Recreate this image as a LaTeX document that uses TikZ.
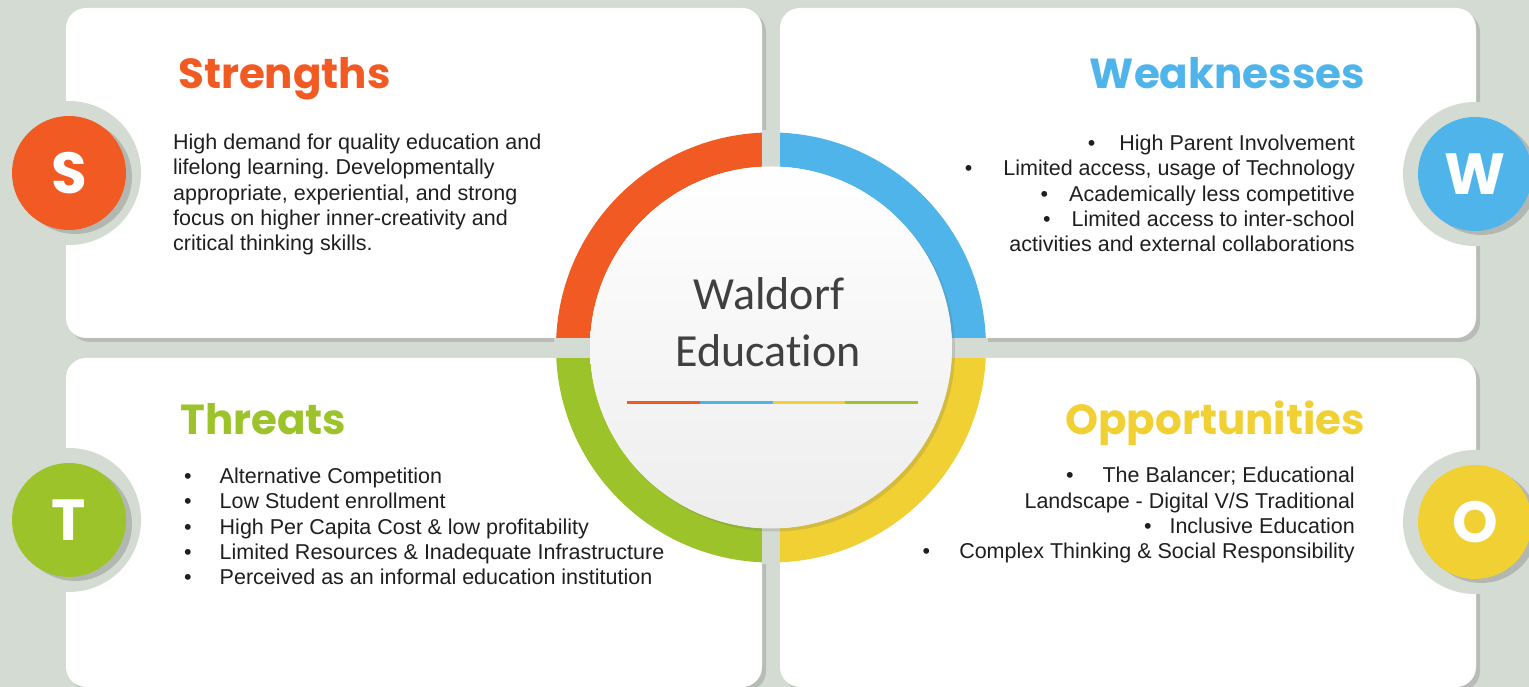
\documentclass[tikz,border=0pt]{standalone}
\usepackage{fontspec}
\setmainfont{Liberation Sans}
\newfontfamily\titlefont{Poppins}
\newfontfamily\hubfont{Carlito}[Ligatures=NoCommon]
\usetikzlibrary{shadows}
\frenchspacing

\definecolor{bg}{HTML}{D3DBD2}
\definecolor{swotorange}{HTML}{F15A22}
\definecolor{swotblue}{HTML}{4FB4EA}
\definecolor{swotyellow}{HTML}{F0D033}
\definecolor{swotgreen}{HTML}{9CC42A}
\definecolor{hubgrey}{HTML}{404040}

\begin{document}
\begin{tikzpicture}[x=1pt,y=1pt]

\tikzset{%
    card/.style={fill=white,rounded corners=20pt,drop shadow={shadow xshift=4pt,shadow yshift=-4pt,opacity=0.25,fill=black!60}},
    headtext/.style={font=\titlefont\bfseries\fontsize{42}{48}\selectfont,inner sep=0pt},
    body/.style={font=\fontsize{21.5}{25.4}\selectfont,text=black!88,inner sep=0pt},
    letter/.style={circle,minimum size=114pt,inner sep=0pt,text=white,font=\titlefont\bfseries\fontsize{58}{60}\selectfont,
        drop shadow={shadow xshift=6pt,shadow yshift=-4pt,opacity=0.3,fill=black!60}},
    notch/.style={circle,fill=bg,minimum size=144pt,inner sep=0pt},
    ring/.style={line width=34pt},
    hub/.style={circle,minimum size=362pt,inner sep=0pt,top color=white,bottom color=black!7,
        drop shadow={shadow xshift=3pt,shadow yshift=-3pt,opacity=0.2,fill=black!60}},
    hubtext/.style={font=\hubfont\fontsize{46}{50}\selectfont,text=hubgrey,inner sep=0pt},
    rule/.style={line width=3pt},
}

% ring centre and radii
\def\cx{771}
\def\cy{339.5}
\def\rout{215}
\def\rmid{198}

% card edges
\def\xa{66}
\def\xb{762}
\def\xc{780}
\def\xd{1476}
\def\ya{0}
\def\yb{329}
\def\yc{349}
\def\yd{679}

\useasboundingbox (0,0) rectangle (1529,687);

% background
\fill [bg] (0,0) rectangle (1529,687);

% cards
\fill [card] (\xa,\yc) rectangle (\xb,\yd);
\fill [card] (\xc,\yc) rectangle (\xd,\yd);
\fill [card] (\xa,\ya) rectangle (\xb,\yb);
\fill [card] (\xc,\ya) rectangle (\xd,\yb);

% letter badges
\node [notch] (snotch) at (69,514) {};
\node [notch] (wnotch) at (1475,513) {};
\node [notch] (tnotch) at (69,167) {};
\node [notch] (onotch) at (1475,165) {};
\node [letter,fill=swotorange] (sdot) at (snotch) {S};
\node [letter,fill=swotblue] (wdot) at (wnotch) {W};
\node [letter,fill=swotgreen] (tdot) at (tnotch) {T};
\node [letter,fill=swotyellow] (odot) at (onotch) {O};

% ring
\draw [ring,swotblue] (\cx,\cy) ++(0:\rmid) arc [radius=\rmid, start angle=0, end angle=90];
\draw [ring,swotorange] (\cx,\cy) ++(90:\rmid) arc [radius=\rmid, start angle=90, end angle=180];
\draw [ring,swotgreen] (\cx,\cy) ++(180:\rmid) arc [radius=\rmid, start angle=180, end angle=270];
\draw [ring,swotyellow] (\cx,\cy) ++(270:\rmid) arc [radius=\rmid, start angle=270, end angle=360];

% gaps through the ring
\fill [bg] (\xb,\cy-\rout-2) rectangle (\xc,\cy+\rout+2);
\fill [bg] (\cx-\rout-2,\yb) rectangle (\cx+\rout+2,\yc);

% hub
\node [hub] (hub) at (\cx,\cy) {};
\node [hubtext,anchor=base] (waldorf) at (769,377) {Waldorf};
\node [hubtext,anchor=base] (education) at (768,320) {Education};

\coordinate (l0) at (627,284);
\coordinate (l1) at (699.75,284);
\coordinate (l2) at (772.5,284);
\coordinate (l3) at (845.25,284);
\coordinate (l4) at (918,284);
\draw [rule,swotorange] (l0) -- (l1);
\draw [rule,swotblue] (l1) -- (l2);
\draw [rule,swotyellow] (l2) -- (l3);
\draw [rule,swotgreen] (l3) -- (l4);

% titles
\node [headtext,text=swotorange,anchor=base west] (strengths) at (178,598) {Strengths};
\node [headtext,text=swotblue,anchor=base east] (weaknesses) at (1365,598) {Weaknesses};
\node [headtext,text=swotgreen,anchor=base west] (threats) at (180,252) {Threats};
\node [headtext,text=swotyellow,anchor=base east] (opportunities) at (1365,252) {Opportunities};

% texts (base = last line)
\node [body,anchor=base west,align=left] (stext) at (173,436) {High demand for quality education and\\
    lifelong learning. Developmentally\\
    appropriate, experiential, and strong\\
    focus on higher inner-creativity and\\
    critical thinking skills.};

\node [body,anchor=base east,align=right] (wtext) at (1355,435) {\textbullet\hspace{24pt}High Parent Involvement\\
    \textbullet\hspace{31pt}Limited access, usage of Technology\\
    \textbullet\hspace{21pt}Academically less competitive\\
    \textbullet\hspace{21pt}Limited access to inter-school\\
    activities and external collaborations};

\node [body,anchor=base west,align=left] (ttext) at (184,102) {\textbullet\hspace{28pt}Alternative Competition\\
    \textbullet\hspace{28pt}Low Student enrollment\\
    \textbullet\hspace{28pt}High Per Capita Cost \& low profitability\\
    \textbullet\hspace{28pt}Limited Resources \& Inadequate Infrastructure\\
    \textbullet\hspace{28pt}Perceived as an informal education institution};

\node [body,anchor=base east,align=right] (otext) at (1355,128) {\textbullet\hspace{29pt}The Balancer; Educational\\
    Landscape - Digital V/S Traditional\\
    \textbullet\hspace{18pt}Inclusive Education\\
    \textbullet\hspace{29pt}Complex Thinking \& Social Responsibility};

\end{tikzpicture}
\end{document}
